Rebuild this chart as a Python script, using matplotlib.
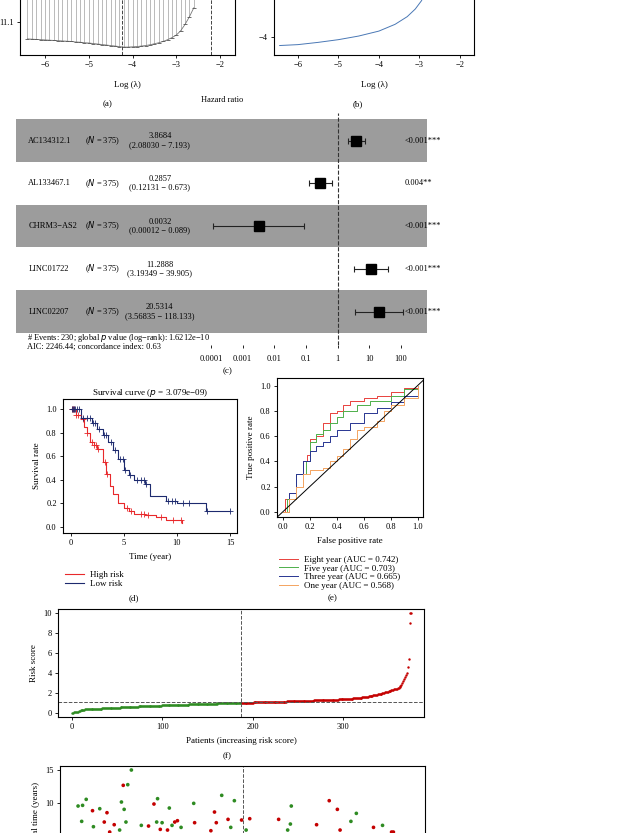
import numpy as np
import matplotlib
matplotlib.use("Agg")
import matplotlib.pyplot as plt

plt.rcParams["font.family"] = "Liberation Serif"
plt.rcParams["font.size"] = 6

W, H = 639, 833
fig = plt.figure(figsize=(W / 100, H / 100), dpi=100)

def ax_px(l, t, r, b):
    return fig.add_axes([l / W, 1 - b / H, (r - l) / W, (b - t) / H])

def txt(x, y, s, **kw):
    kw.setdefault("ha", "center")
    kw.setdefault("va", "center")
    fig.text(x / W, 1 - y / H, s, **kw)

# ---------------- data ----------------
cv_loglambda = [-6.4, -6.3, -6.2, -6.1, -6.0, -5.9, -5.8, -5.7, -5.6, -5.5, -5.4, -5.3, -5.2,
                -5.1, -5.0, -4.9, -4.8, -4.7, -4.6, -4.5, -4.4, -4.3, -4.2, -4.1, -4.0, -3.9,
                -3.8, -3.7, -3.6, -3.5, -3.4, -3.3, -3.2, -3.1, -3.0, -2.9, -2.8, -2.7, -2.6]
cv_lower = [11.033, 11.032, 11.031, 11.030, 11.029, 11.028, 11.027, 11.026, 11.025, 11.024,
            11.023, 11.021, 11.020, 11.018, 11.017, 11.015, 11.013, 11.011, 11.009, 11.007,
            11.005, 11.003, 11.001, 11.001, 11.002, 11.003, 11.005, 11.007, 11.010, 11.014,
            11.018, 11.023, 11.030, 11.038, 11.048, 11.065, 11.090, 11.120, 11.155]
lambda_min, lambda_1se = -4.25, -2.2

coef_loglambda = [-6.45, -6.0, -5.5, -5.0, -4.5, -4.0, -3.6, -3.3, -3.1, -2.95, -2.8]
coef_values = [-4.19, -4.17, -4.12, -4.06, -3.98, -3.87, -3.72, -3.55, -3.38, -3.2, -2.95]

genes = ["AC134312.1", "AL133467.1", "CHRM3−AS2", "LINC01722", "LINC02207"]
n_pat = [375, 375, 375, 375, 375]
hr = [3.8684, 0.2857, 0.0032, 11.2888, 20.5314]
hr_lo = [2.08030, 0.12131, 0.00012, 3.19349, 3.56835]
hr_hi = [7.193, 0.673, 0.089, 39.905, 118.133]
hr_ci_text = ["(2.08030 − 7.193)", "(0.12131 − 0.673)", "(0.00012 − 0.089)",
              "(3.19349 − 39.905)", "(3.56835 − 118.133)"]
pvals = ["<0.001***", "0.004**", "<0.001***", "<0.001***", "<0.001***"]
hr_ticks = [0.0001, 0.001, 0.01, 0.1, 1, 10, 100]
hr_tick_labels = ["0.0001", "0.001", "0.01", "0.1", "1", "10", "100"]

high_t = [0, 0.5, 1.0, 1.3, 1.5, 1.8, 2.2, 2.5, 3.0, 3.3, 3.7, 4.0, 4.5, 5.0, 5.5, 6.0, 7.0, 8.0, 9.0, 10.5]
high_s = [1.0, 0.95, 0.92, 0.85, 0.80, 0.72, 0.70, 0.66, 0.55, 0.45, 0.35, 0.28, 0.20, 0.16, 0.13, 0.11, 0.10, 0.08, 0.06, 0.03]
high_cens = [0.1, 0.2, 0.3, 0.5, 0.7, 1.2, 1.5, 2.0, 2.2, 2.4, 2.6, 3.2, 3.4, 5.3, 5.7, 6.6, 6.9, 7.3, 8.5, 9.6, 10.4]
low_t = [0, 1.0, 2.0, 2.5, 3.0, 3.5, 4.0, 4.5, 5.0, 5.5, 6.0, 7.0, 7.5, 9.0, 10.0, 12.75, 15.0]
low_s = [1.0, 0.93, 0.88, 0.83, 0.78, 0.72, 0.65, 0.58, 0.48, 0.44, 0.40, 0.36, 0.26, 0.22, 0.20, 0.13, 0.13]
low_cens = [0.1, 0.2, 0.3, 0.4, 0.6, 0.8, 1.2, 1.5, 1.8, 2.1, 2.3, 2.7, 3.1, 3.3, 3.8, 4.2, 4.6, 4.9,
            5.1, 5.6, 6.2, 6.6, 6.9, 7.1, 9.2, 9.5, 9.8, 10.6, 11.1, 12.8, 15.0]

roc = {
    "Eight year (AUC = 0.742)": ([0, .02, .05, .1, .15, .18, .2, .25, .3, .35, .4, .45, .5, .6, .7, .8, .9, 1],
                                 [0, .1, .15, .3, .4, .45, .58, .6, .7, .78, .8, .85, .88, .9, .92, .95, .98, 1]),
    "Five year (AUC = 0.703)": ([0, .03, .1, .17, .2, .25, .3, .35, .4, .45, .55, .65, .8, .9, 1],
                                [0, .1, .3, .4, .55, .62, .65, .7, .75, .8, .85, .88, .92, .97, 1]),
    "Three year (AUC = 0.665)": ([0, .05, .1, .15, .2, .25, .3, .35, .4, .5, .6, .7, .8, .9, 1],
                                 [0, .15, .3, .4, .48, .52, .55, .6, .65, .7, .78, .82, .87, .92, 1]),
    "One year (AUC = 0.568)": ([0, .05, .1, .15, .2, .3, .35, .4, .45, .5, .55, .6, .7, .75, .8, .9, 1],
                               [0, .1, .2, .3, .33, .35, .4, .44, .5, .58, .65, .67, .72, .8, .85, .9, 1]),
}
roc_colors = ["#e8413c", "#4daf4a", "#283592", "#f4a460"]

risk_low = [0.05, 0.07, 0.09, 0.11, 0.13, 0.15, 0.18, 0.22, 0.27, 0.31,
            0.34, 0.36, 0.37, 0.38, 0.39, 0.40, 0.40, 0.41, 0.41, 0.42,
            0.42, 0.43, 0.43, 0.44, 0.44, 0.45, 0.45, 0.46, 0.46, 0.47,
            0.47, 0.48, 0.48, 0.49, 0.49, 0.50, 0.50, 0.51, 0.51, 0.52,
            0.52, 0.53, 0.53, 0.54, 0.54, 0.55, 0.55, 0.56, 0.56, 0.57,
            0.57, 0.58, 0.58, 0.59, 0.59, 0.60, 0.60, 0.61, 0.61, 0.62,
            0.62, 0.63, 0.63, 0.64, 0.64, 0.65, 0.65, 0.66, 0.66, 0.67,
            0.67, 0.68, 0.68, 0.69, 0.69, 0.70, 0.70, 0.71, 0.71, 0.72,
            0.72, 0.73, 0.73, 0.73, 0.74, 0.74, 0.74, 0.75, 0.75, 0.75,
            0.76, 0.76, 0.76, 0.77, 0.77, 0.77, 0.78, 0.78, 0.78, 0.79,
            0.79, 0.79, 0.80, 0.80, 0.80, 0.81, 0.81, 0.81, 0.82, 0.82,
            0.82, 0.83, 0.83, 0.83, 0.84, 0.84, 0.84, 0.85, 0.85, 0.85,
            0.86, 0.86, 0.86, 0.87, 0.87, 0.87, 0.88, 0.88, 0.88, 0.89,
            0.89, 0.89, 0.90, 0.90, 0.90, 0.91, 0.91, 0.91, 0.92, 0.92,
            0.92, 0.93, 0.93, 0.93, 0.94, 0.94, 0.94, 0.95, 0.95, 0.95,
            0.96, 0.96, 0.96, 0.97, 0.97, 0.97, 0.97, 0.98, 0.98, 0.98,
            0.99, 0.99, 0.99, 0.99, 1.00, 1.00, 1.00, 1.00, 1.01, 1.01,
            1.01, 1.01, 1.02, 1.02, 1.02, 1.02, 1.03, 1.03, 1.03, 1.03,
            1.04, 1.04, 1.04, 1.04, 1.05, 1.05, 1.05]
risk_high = [1.05, 1.06, 1.06, 1.06, 1.06, 1.07, 1.07, 1.07, 1.07, 1.08,
             1.08, 1.08, 1.08, 1.09, 1.09, 1.09, 1.09, 1.10, 1.10, 1.10,
             1.10, 1.11, 1.11, 1.11, 1.11, 1.12, 1.12, 1.12, 1.12, 1.13,
             1.13, 1.13, 1.13, 1.14, 1.14, 1.14, 1.14, 1.15, 1.15, 1.15,
             1.15, 1.16, 1.16, 1.16, 1.17, 1.17, 1.17, 1.18, 1.18, 1.18,
             1.19, 1.19, 1.19, 1.20, 1.20, 1.20, 1.21, 1.21, 1.21, 1.22,
             1.22, 1.22, 1.23, 1.23, 1.23, 1.24, 1.24, 1.24, 1.25, 1.25,
             1.25, 1.26, 1.26, 1.26, 1.27, 1.27, 1.27, 1.28, 1.28, 1.28,
             1.29, 1.29, 1.29, 1.30, 1.30, 1.30, 1.31, 1.31, 1.31, 1.32,
             1.32, 1.32, 1.33, 1.33, 1.33, 1.34, 1.34, 1.34, 1.35, 1.35,
             1.35, 1.36, 1.36, 1.37, 1.37, 1.38, 1.38, 1.39, 1.39, 1.40,
             1.40, 1.41, 1.41, 1.42, 1.42, 1.43, 1.43, 1.44, 1.45, 1.46,
             1.46, 1.47, 1.48, 1.49, 1.50, 1.51, 1.52, 1.53, 1.54, 1.55,
             1.56, 1.57, 1.58, 1.59, 1.60, 1.62, 1.63, 1.65, 1.66, 1.68,
             1.70, 1.72, 1.74, 1.76, 1.78, 1.80, 1.82, 1.84, 1.86, 1.88,
             1.90, 1.92, 1.94, 1.96, 1.98, 2.00, 2.03, 2.06, 2.09, 2.12,
             2.15, 2.18, 2.21, 2.24, 2.27, 2.30, 2.33, 2.36, 2.39, 2.42,
             2.45, 2.48, 2.52, 2.56, 2.60, 2.70, 2.85, 3.00, 3.20, 3.40,
             3.60, 3.85, 4.00, 4.60, 5.40, 9.00, 10.00, 10.05]
risk_cutoff = 1.1

st_patient = [5, 9, 10, 14, 21, 22, 29, 34, 37, 40, 45, 51, 53, 55, 56, 58, 60, 64, 75, 83,
              89, 92, 93, 96, 98, 104, 106, 109, 112, 115, 119, 133, 134, 152, 156, 158, 164,
              171, 174, 178, 186, 191, 195, 227, 237, 240, 241, 269, 283, 292, 295, 307, 313,
              332, 342, 352, 354]
st_time = [9.6, 7.3, 9.7, 10.6, 8.9, 6.5, 9.2, 7.2, 8.6, 5.7, 6.8, 6.0, 10.2, 12.7, 9.1, 7.2,
           12.8, 15.0, 6.7, 6.6, 9.9, 7.2, 10.7, 6.1, 7.1, 6.0, 9.3, 6.7, 7.2, 7.4, 6.4, 10.0,
           7.1, 5.9, 8.7, 7.1, 11.2, 7.6, 6.4, 10.4, 7.5, 6.0, 7.7, 7.6, 6.0, 6.9, 9.6, 6.8,
           10.4, 9.1, 6.0, 7.3, 8.5, 6.4, 6.7, 5.7, 5.7]
st_dead = [0, 0, 0, 0, 1, 0, 0, 1, 1, 1, 1, 0, 0, 1, 0, 0, 0, 0, 0, 1,
           1, 0, 0, 1, 0, 1, 0, 0, 1, 1, 0, 0, 1, 1, 1, 1, 0, 1, 0, 0,
           1, 0, 1, 1, 0, 0, 0, 1, 1, 1, 1, 0, 0, 1, 0, 1, 1]

RED, NAVY, GREEN, DRED = "#e8282b", "#1d2a6e", "#2e8b22", "#c40000"

def style(ax):
    ax.tick_params(labelsize=6, length=2.5, width=0.6, pad=2)
    for s in ax.spines.values():
        s.set_linewidth(0.8)

# ---------------- (a) ----------------
ax = ax_px(20, -60, 235, 55)
ax.vlines(cv_loglambda, cv_lower, 11.6, color="#b0b0b0", lw=0.6)
ax.plot(cv_loglambda, cv_lower, color="#777777", lw=0.6)
ax.plot(cv_loglambda, cv_lower, ls="none", marker="_", ms=3, color="#555555", mew=0.6)
ax.axvline(lambda_min, color="#444444", ls="--", lw=0.7)
ax.axvline(lambda_1se, color="#444444", ls="--", lw=0.7)
ax.set_xlim(-6.57, -1.66)
ax.set_ylim(10.97, 11.42)
ax.set_xticks([-6, -5, -4, -3, -2])
ax.set_yticks([11.1])
ax.set_yticklabels(["11.1"])
style(ax)
txt(127, 85, "Log (λ)", fontsize=6.5)
txt(108, 104, "(a)", fontsize=6.5)

# ---------------- (b) ----------------
ax = ax_px(274, -60, 474, 55)
ax.plot(coef_loglambda, coef_values, color="#4a78b5", lw=0.7)
ax.set_xlim(-6.59, -1.65)
ax.set_ylim(-4.4, -1.85)
ax.set_xticks([-6, -5, -4, -3, -2])
ax.set_yticks([-4])
style(ax)
txt(374, 85, "Log (λ)", fontsize=6.5)
txt(358, 104, "(b)", fontsize=6.5)

# ---------------- (c) forest ----------------
ax = ax_px(16, 108, 427, 345)
ax.set_xscale("log")
ax.set_xlim(10 ** -10.15, 10 ** 2.82)
ax.set_ylim(4.78, -0.76)
for i in range(len(genes)):
    if i % 2 == 0:
        ax.axhspan(i - 0.5, i + 0.5, color="#9c9c9c", lw=0)
ax.grid(axis="x", color="white", ls=":", lw=0.5, alpha=0.8)
ax.set_axisbelow(True)
ax.axvline(1, color="#333333", ls="--", lw=0.8, ymax=0.98)
for i in range(len(genes)):
    ax.errorbar(hr[i], i, xerr=[[hr[i] - hr_lo[i]], [hr_hi[i] - hr[i]]], fmt="s", ms=7,
                color="black", ecolor="#222222", elinewidth=0.8, capsize=2, capthick=0.8)
    ax.text(0.03, i, genes[i], transform=ax.get_yaxis_transform(), ha="left", va="center", fontsize=6)
    ax.text(0.21, i, "($N$ = %d)" % n_pat[i], transform=ax.get_yaxis_transform(), ha="center", va="center", fontsize=6)
    ax.text(0.35, i, "%s\n%s" % (hr[i], hr_ci_text[i]), transform=ax.get_yaxis_transform(),
            ha="center", va="center", fontsize=6, linespacing=1.1)
    ax.text(0.945, i, pvals[i], transform=ax.get_yaxis_transform(), ha="left", va="center", fontsize=6)
ax.set_xticks(hr_ticks)
ax.set_xticklabels(hr_tick_labels)
ax.minorticks_off()
ax.set_yticks([])
for s in ax.spines.values():
    s.set_visible(False)
ax.tick_params(axis="x", labelsize=6, length=2, width=0.6, pad=5)
txt(222, 100, "Hazard ratio", fontsize=6)
txt(27, 338, "# Events: 230; global $p$ value (log−rank): 1.6212e−10", ha="left", fontsize=6)
txt(27, 347, "AIC: 2246.44; concordance index: 0.63", ha="left", fontsize=6)
txt(228, 371, "(c)", fontsize=6.5)

# ---------------- (d) survival ----------------
def step_at(ts, ss, x):
    idx = np.searchsorted(ts, x, side="right") - 1
    return np.array(ss)[idx]

ax = ax_px(63, 399, 237, 533)
ax.step(high_t, high_s, where="post", color=RED, lw=0.8, label="High risk")
ax.step(low_t, low_s, where="post", color=NAVY, lw=0.8, label="Low risk")
ax.plot(high_cens, step_at(high_t, high_s, high_cens), "+", color=RED, ms=4, mew=0.6)
ax.plot(low_cens, step_at(low_t, low_s, low_cens), "+", color=NAVY, ms=4, mew=0.6)
ax.set_xlim(-0.72, 15.65)
ax.set_ylim(-0.054, 1.088)
ax.set_xticks([0, 5, 10, 15])
ax.set_yticks([0, 0.2, 0.4, 0.6, 0.8, 1.0])
ax.set_yticklabels(["0.0", "0.2", "0.4", "0.6", "0.8", "1.0"])
ax.set_xlabel("Time (year)", fontsize=6.5)
ax.set_ylabel("Survival rate", fontsize=6.5)
ax.set_title("Survival curve ($p$ = 3.079e−09)", fontsize=6.5, pad=3)
style(ax)
fig.legend(*ax.get_legend_handles_labels(), loc="upper left", bbox_to_anchor=(60 / W, 1 - 566 / H),
           frameon=False, fontsize=6.5, handlelength=2.2, labelspacing=0.1, borderpad=0, handletextpad=0.6)
txt(134, 598, "(d)", fontsize=6.5)

# ---------------- (e) ROC ----------------
ax = ax_px(277, 378, 423, 517)
for (lab, (fx, ty)), c in zip(roc.items(), roc_colors):
    ax.step(fx, ty, where="post", color=c, lw=0.7, label=lab)
ax.plot([-0.05, 1.05], [-0.05, 1.05], color="black", lw=0.7)
ax.set_xlim(-0.042, 1.04)
ax.set_ylim(-0.04, 1.06)
ticks = [0, 0.2, 0.4, 0.6, 0.8, 1.0]
tl = ["0.0", "0.2", "0.4", "0.6", "0.8", "1.0"]
ax.set_xticks(ticks); ax.set_xticklabels(tl)
ax.set_yticks(ticks); ax.set_yticklabels(tl)
ax.set_xlabel("False positive rate", fontsize=6.5)
ax.set_ylabel("True positive rate", fontsize=6.5)
style(ax)
fig.legend(*ax.get_legend_handles_labels(), loc="upper left", bbox_to_anchor=(274 / W, 1 - 551 / H),
           frameon=False, fontsize=6.5, handlelength=2.2, labelspacing=0.05, borderpad=0, handletextpad=0.6)
txt(333, 598, "(e)", fontsize=6.5)

# ---------------- (f) risk score ----------------
risk = risk_low + risk_high
pidx = np.arange(1, len(risk) + 1)
n_low = len(risk_low)
ax = ax_px(58, 609, 424, 717)
ax.scatter(pidx[:n_low], risk_low, s=3, color=GREEN, lw=0)
ax.scatter(pidx[n_low:], risk_high, s=3, color=DRED, lw=0)
ax.axvline(n_low + 0.5, color="#555555", ls="--", lw=0.7)
ax.axhline(risk_cutoff, color="#555555", ls="--", lw=0.7)
ax.set_xlim(-15, 389)
ax.set_ylim(-0.37, 10.43)
ax.set_xticks([0, 100, 200, 300])
ax.set_yticks([0, 2, 4, 6, 8, 10])
ax.set_xlabel("Patients (increasing risk score)", fontsize=6.5)
ax.set_ylabel("Risk score", fontsize=6.5)
style(ax)
txt(227, 756, "(f)", fontsize=6.5)

# ---------------- (g) survival status ----------------
ax = ax_px(60, 766, 425, 873)
cols = [DRED if d else GREEN for d in st_dead]
ax.scatter(st_patient, st_time, s=7, c=cols, lw=0)
ax.axvline(n_low + 0.5, color="#555555", ls="--", lw=0.7)
ax.set_xlim(-15, 389)
ax.set_ylim(-0.44, 15.6)
ax.set_yticks([10, 15])
ax.set_xticks([])
ax.set_ylabel("Survival time (years)", fontsize=6.5)
style(ax)

fig.savefig("out.png", dpi=100)
